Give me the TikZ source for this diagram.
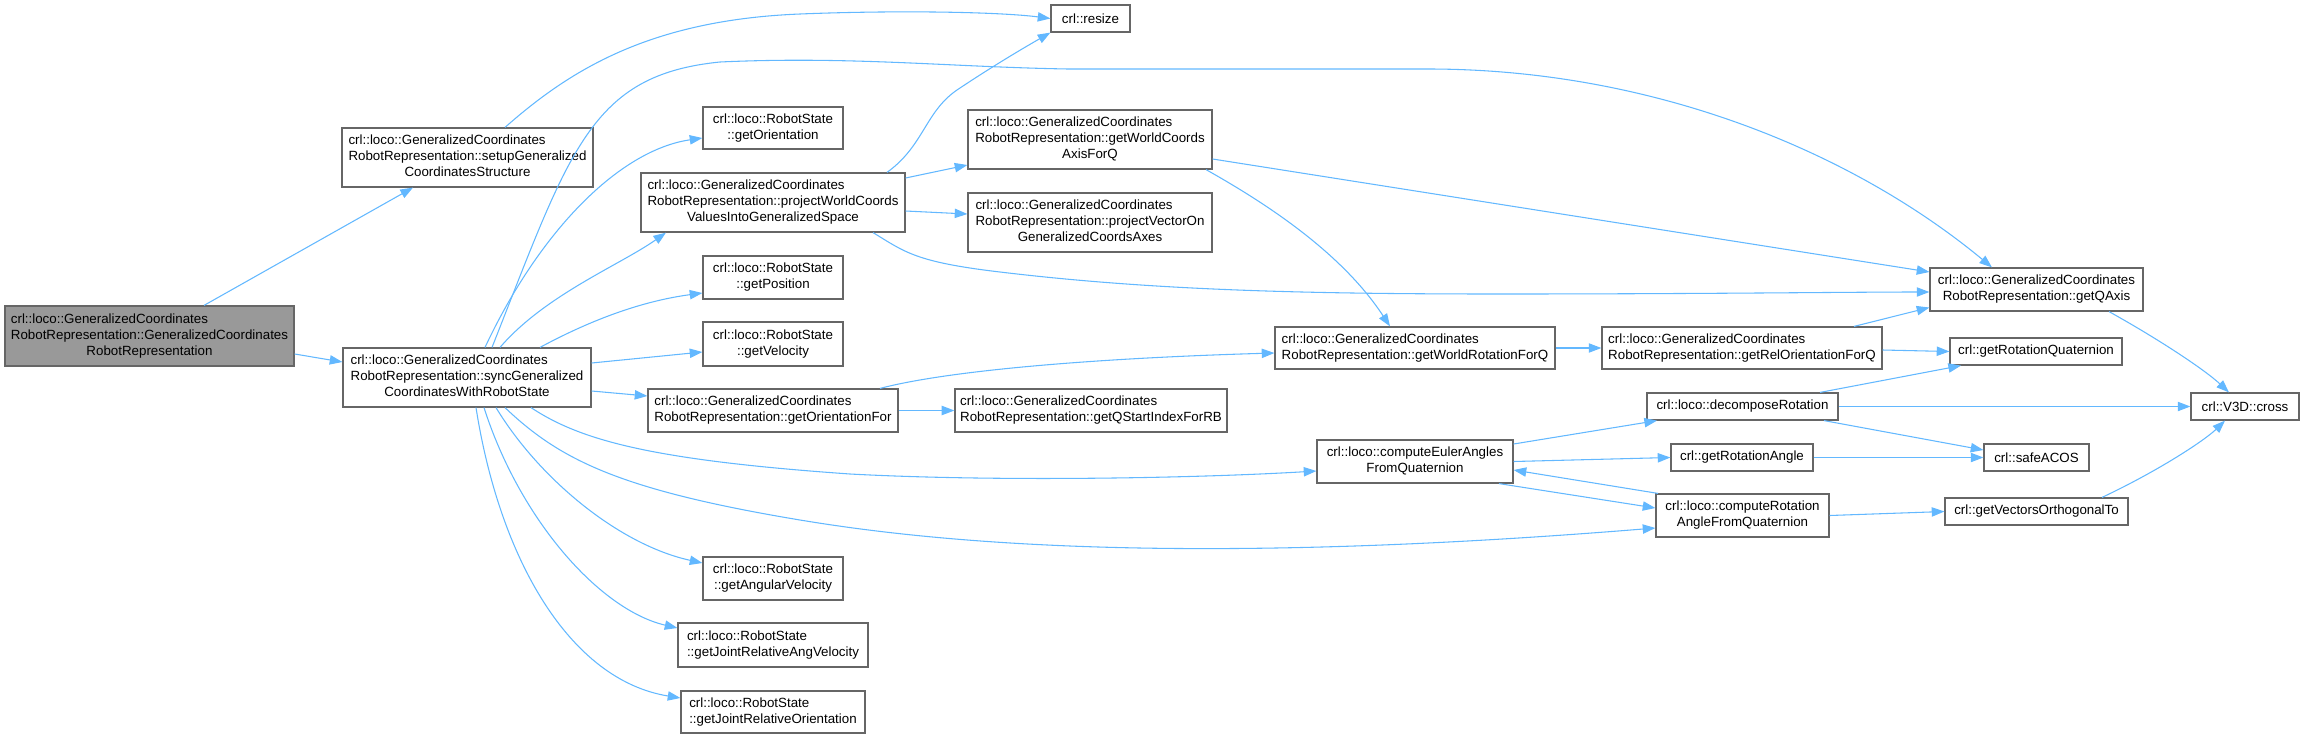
\documentclass[tikz,border=0pt]{standalone}
\usepackage{fontspec}
\setmainfont{Liberation Sans}
\usetikzlibrary{arrows.meta,calc}
\definecolor{edgeblue}{HTML}{63B8FF}
\definecolor{boxgray}{HTML}{666666}
\definecolor{rootfill}{HTML}{999999}
\tikzset{
  box/.style={draw=boxgray, line width=0.9pt, fill=white, inner sep=0pt,
    font=\fontsize{10}{12}\selectfont, align=center},
  edge/.style={draw=edgeblue, line width=0.8pt,
    -{Triangle[length=9.5pt,width=7pt]}},
}
\newcommand\bx[7][]{\node[box,#1,minimum width={(#5-#3)*0.75pt},minimum height={(#6-#4)*0.75pt}] (#2) at ({(#3+#5)/2},{(#4+#6)/2}) {#7};}
\newcommand\tl[2]{\begin{tabular}{@{}l@{}}#1\\\multicolumn{1}{@{}c@{}}{#2}\end{tabular}}
\begin{document}
\begin{tikzpicture}[x=0.75pt,y=-0.75pt]
\useasboundingbox (0,0) rectangle (2305,739);
% nodes
\bx[fill=rootfill]{root}{5}{306}{294}{366}{\tl{crl::loco::GeneralizedCoordinates\\RobotRepresentation::GeneralizedCoordinates}{RobotRepresentation}}
\bx{setup}{342}{128}{593}{187}{\tl{crl::loco::GeneralizedCoordinates\\RobotRepresentation::setupGeneralized}{CoordinatesStructure}}
\bx{sync}{343}{348}{591}{407}{\tl{crl::loco::GeneralizedCoordinates\\RobotRepresentation::syncGeneralized}{CoordinatesWithRobotState}}
\bx{getOri}{703}{107}{843}{149}{\tl{crl::loco::RobotState}{::getOrientation}}
\bx{projW}{641}{173}{905}{232}{\tl{crl::loco::GeneralizedCoordinates\\RobotRepresentation::projectWorldCoords}{ValuesIntoGeneralizedSpace}}
\bx{getPos}{703}{256}{843}{299}{\tl{crl::loco::RobotState}{::getPosition}}
\bx{getVel}{703}{322}{843}{366}{\tl{crl::loco::RobotState}{::getVelocity}}
\bx{getOriFor}{648}{389}{898}{432}{\tl{crl::loco::GeneralizedCoordinates}{RobotRepresentation::getOrientationFor}}
\bx{getAngVel}{703}{557}{843}{600}{\tl{crl::loco::RobotState}{::getAngularVelocity}}
\bx{getJRAV}{678}{623}{868}{667}{\tl{crl::loco::RobotState}{::getJointRelativeAngVelocity}}
\bx{getJRO}{681}{691}{865}{733}{\tl{crl::loco::RobotState}{::getJointRelativeOrientation}}
\bx{resize}{1051}{5}{1130}{32}{crl::resize}
\bx{getWCA}{968}{110}{1212}{169}{\tl{crl::loco::GeneralizedCoordinates\\RobotRepresentation::getWorldCoords}{AxisForQ}}
\bx{projV}{968}{193}{1212}{252}{\tl{crl::loco::GeneralizedCoordinates\\RobotRepresentation::projectVectorOn}{GeneralizedCoordsAxes}}
\bx{getQS}{955}{389}{1227}{432}{\tl{crl::loco::GeneralizedCoordinates}{RobotRepresentation::getQStartIndexForRB}}
\bx{getWRQ}{1275}{327}{1555}{369}{\tl{crl::loco::GeneralizedCoordinates}{RobotRepresentation::getWorldRotationForQ}}
\bx{getRelO}{1602}{327}{1882}{369}{\tl{crl::loco::GeneralizedCoordinates}{RobotRepresentation::getRelOrientationForQ}}
\bx{getQAxis}{1930}{268}{2143}{311}{\tl{crl::loco::GeneralizedCoordinates}{RobotRepresentation::getQAxis}}
\bx{getRotQ}{1950}{338}{2122}{365}{crl::getRotationQuaternion}
\bx{decomp}{1647}{393}{1838}{420}{crl::loco::decomposeRotation}
\bx{cross}{2191}{393}{2299}{420}{crl::V3D::cross}
\bx{euler}{1317}{440}{1513}{483}{\tl{crl::loco::computeEulerAngles}{FromQuaternion}}
\bx{getRotA}{1671}{444}{1813}{471}{crl::getRotationAngle}
\bx{acos}{1984}{444}{2089}{471}{crl::safeACOS}
\bx{compRot}{1656}{494}{1829}{537}{\tl{crl::loco::computeRotation}{AngleFromQuaternion}}
\bx{orth}{1945}{498}{2128}{525}{crl::getVectorsOrthogonalTo}
% edges
\draw[edge] ($(root.north)+(54.5,0)$) -- ($(setup.south)+(-54.5,0)$);
\draw[edge] ($(root.east)+(0,18)$) -- ($(sync.west)+(0,-15.5)$);
\draw[edge] ($(setup.north)+(37.5,0)$) .. controls (570,70) and (650,20) .. (800,14) .. controls (900,10) and (1000,12) .. (resize.west);
\draw[edge] ($(sync.north)+(18,0)$) .. controls (540,230) and (620,150) .. ($(getOri.west)+(0,10)$);
\draw[edge] ($(sync.north)+(25,0)$) .. controls (570,150) and (590,75) .. (720,62) .. controls (850,56) and (950,67) .. (1068,69) -- (1428,69) .. controls (1650,69) and (1850,150) .. ($(getQAxis.north)+(-44.5,0)$);
\draw[edge] ($(sync.north)+(33,0)$) .. controls (545,295) and (620,265) .. ($(projW.south)+(-107,0)$);
\draw[edge] ($(sync.north)+(73,0)$) .. controls (600,315) and (650,300) .. ($(getPos.west)+(0,15.5)$);
\draw[edge] ($(sync.east)+(0,-14.5)$) -- ($(getVel.west)+(0,8)$);
\draw[edge] ($(sync.east)+(0,13.5)$) -- ($(getOriFor.west)+(0,-14.5)$);
\draw[edge] ($(sync.south)+(64,0)$) .. controls (580,440) and (650,460) .. (850,474) .. controls (1000,482) and (1200,478) .. ($(euler.west)+(0,9.5)$);
\draw[edge] ($(sync.south)+(38,0)$) .. controls (560,460) and (620,490) .. (800,520) .. controls (950,545) and (1200,565) .. ($(compRot.west)+(0,12.5)$);
\draw[edge] ($(sync.south)+(29,0)$) .. controls (540,480) and (620,545) .. ($(getAngVel.west)+(0,-15.5)$);
\draw[edge] ($(sync.south)+(17,0)$) .. controls (520,520) and (600,610) .. ($(getJRAV.west)+(0,-17)$);
\draw[edge] ($(sync.south)+(9,0)$) .. controls (500,560) and (570,680) .. ($(getJRO.west)+(0,-14)$);
\draw[edge] ($(projW.north)+(114,0)$) .. controls (925,145) and (925,110) .. (960,88) .. controls (990,68) and (1020,50) .. (resize.south west);
\draw[edge] ($(projW.east)+(0,-24.5)$) -- ($(getWCA.west)+(0,25.5)$);
\draw[edge] ($(projW.east)+(0,8.5)$) -- ($(projV.west)+(0,-8.5)$);
\draw[edge] ($(projW.south)+(100,0)$) .. controls (905,252) and (915,262) .. (1000,272) .. controls (1150,290) and (1300,294) .. (1500,294) .. controls (1700,294) and (1850,292) .. ($(getQAxis.west)+(0,2.5)$);
\draw[edge] ($(getWCA.south)+(116,0)$) .. controls (1260,200) and (1340,250) .. ($(getWRQ.north)+(-25,0)$);
\draw[edge] ($(getWCA.east)+(0,19.5)$) -- ($(getQAxis.west)+(0,-17.5)$);
\draw[edge] ($(getOriFor.north)+(107,0)$) .. controls (950,370) and (1100,358) .. ($(getWRQ.west)+(0,5)$);
\draw[edge] (getOriFor.east) -- (getQS.west);
\draw[edge] (getWRQ.east) -- (getRelO.west);
\draw[edge] ($(getRelO.east)+(0,2)$) -- (getRotQ.west);
\draw[edge] ($(getRelO.north)+(112,0)$) -- ($(getQAxis.west)+(0,18)$);
\draw[edge] ($(getQAxis.south)+(72.5,0)$) .. controls (2160,340) and (2205,370) .. ($(cross.north)+(-16,0)$);
\draw[edge] ($(decomp.north)+(77.5,0)$) -- ($(getRotQ.south)+(-75,0)$);
\draw[edge] (decomp.east) -- (cross.west);
\draw[edge] ($(decomp.south)+(81.5,0)$) -- ($(acos.west)+(0,-7.5)$);
\draw[edge] (getRotA.east) -- (acos.west);
\draw[edge] ($(orth.north)+(65.5,0)$) .. controls (2160,470) and (2205,440) .. ($(cross.south)+(-20,0)$);
\draw[edge] ($(euler.east)+(0,-17.5)$) -- ($(decomp.south)+(-85.5,0)$);
\draw[edge] (euler.east) -- (getRotA.west);
\draw[edge] ($(euler.south)+(84,0)$) -- ($(compRot.west)+(0,-7.5)$);
\draw[edge] ($(compRot.north)+(-84.5,0)$) -- ($(euler.east)+(0,8.5)$);
\draw[edge] (compRot.east) -- (orth.west);
\end{tikzpicture}
\end{document}
